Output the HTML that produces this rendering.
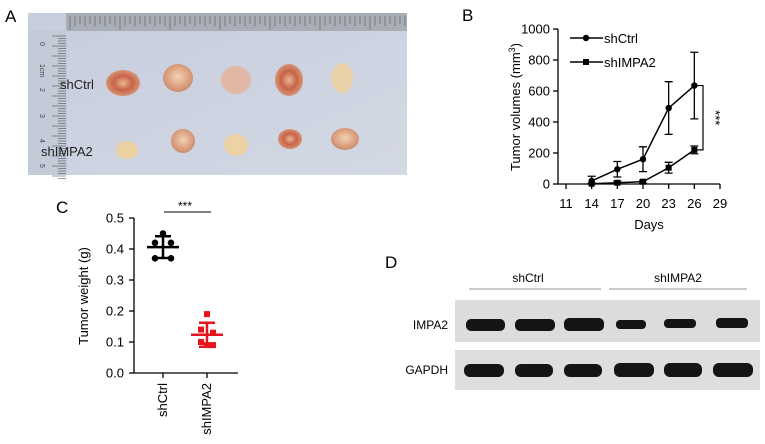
<!DOCTYPE html>
<html><head><meta charset="utf-8"><style>
body{margin:0;background:#fff;}
svg{display:block;font-family:"Liberation Sans",Arial,sans-serif;}
</style></head><body>
<svg id="fig" width="765" height="444" viewBox="0 0 765 444">
<defs>
<radialGradient id="tum" cx="50%" cy="45%" r="55%"><stop offset="0" stop-color="#f1d2b4"/><stop offset="0.6" stop-color="#dfa583"/><stop offset="1" stop-color="#c98c70"/></radialGradient>
<radialGradient id="tumr" cx="50%" cy="50%" r="55%"><stop offset="0" stop-color="#e8b890"/><stop offset="0.5" stop-color="#c9624a"/><stop offset="1" stop-color="#d8a07e"/></radialGradient>
<linearGradient id="photo" x1="0" y1="0" x2="1" y2="1"><stop offset="0" stop-color="#c6cddd"/><stop offset="1" stop-color="#d3d8e4"/></linearGradient>
</defs>
<g>
<text x="5" y="22" font-size="17">A</text>
<rect x="28" y="13" width="379" height="162" fill="url(#photo)"/>
<rect x="66" y="13" width="341" height="18" fill="#a9aeb6"/>
<rect x="28" y="30" width="39" height="145" fill="#c3cad8"/>
<g id="rulerticks" stroke="#555" stroke-width="0.6"></g>
<g font-size="7" fill="#444">
<text x="40" y="42" transform="rotate(90 40 42)">0</text><text x="40" y="64" transform="rotate(90 40 64)">1cm</text>
<text x="40" y="88" transform="rotate(90 40 88)">2</text><text x="40" y="114" transform="rotate(90 40 114)">3</text>
<text x="40" y="139" transform="rotate(90 40 139)">4</text><text x="40" y="164" transform="rotate(90 40 164)">5</text></g>
<g>
<ellipse cx="123" cy="83" rx="17" ry="13" fill="url(#tumr)"/><ellipse cx="178" cy="78" rx="15" ry="14" fill="url(#tum)"/>
<ellipse cx="236" cy="80" rx="15" ry="14" fill="#e2b7a6"/><ellipse cx="289" cy="80" rx="14" ry="16" fill="url(#tumr)"/>
<ellipse cx="342" cy="78" rx="11" ry="15" fill="#ead2a8"/>
<ellipse cx="127" cy="150" rx="11" ry="9" fill="#ecd0a2"/><ellipse cx="183" cy="141" rx="12" ry="12" fill="url(#tum)"/>
<ellipse cx="236" cy="145" rx="12" ry="11" fill="#ecd2a4"/><ellipse cx="290" cy="139" rx="12" ry="10" fill="url(#tumr)"/>
<ellipse cx="345" cy="139" rx="14" ry="11" fill="url(#tum)"/></g>
<text x="60" y="89" font-size="13" fill="#222">shCtrl</text>
<text x="41" y="156" font-size="13" fill="#222">shIMPA2</text>
</g>
<g id="panelB">
<text x="462" y="21" font-size="17">B</text>
</g>
<g id="panelC">
<text x="56" y="213" font-size="17">C</text>
</g>
<g>
<text x="385" y="268" font-size="17">D</text>
<text x="528" y="282" font-size="12" text-anchor="middle">shCtrl</text>
<text x="678" y="282" font-size="12" text-anchor="middle">shIMPA2</text>
<line x1="469" y1="289" x2="601" y2="289" stroke="#999" stroke-width="1"/>
<line x1="609" y1="289" x2="747" y2="289" stroke="#999" stroke-width="1"/>
<rect x="455" y="300" width="305" height="42" fill="#dcdcdc"/>
<rect x="455" y="350" width="305" height="40" fill="#dedede"/>
<text x="448" y="329" font-size="12" text-anchor="end">IMPA2</text>
<text x="448" y="374" font-size="12" text-anchor="end">GAPDH</text>
<g fill="#141414">
<rect x="466" y="319" width="39" height="12" rx="5"/><rect x="515" y="319" width="40" height="12" rx="5"/><rect x="564" y="318" width="40" height="13" rx="5"/>
<rect x="616" y="320" width="30" height="9" rx="4"/><rect x="664" y="319" width="32" height="9" rx="4"/><rect x="716" y="318" width="32" height="10" rx="4"/></g>
<g fill="#141414">
<rect x="464" y="364" width="40" height="13" rx="6"/><rect x="515" y="364" width="38" height="13" rx="6"/><rect x="564" y="364" width="38" height="13" rx="6"/>
<rect x="614" y="363" width="40" height="14" rx="6"/><rect x="664" y="363" width="38" height="14" rx="6"/><rect x="713" y="363" width="40" height="14" rx="6"/></g>
</g>
</svg>
<script>
// Panel B data
const days=[14,17,20,23,26];
const ctrlVol=[20,95,160,490,635];
const ctrlErr=[30,50,80,170,215];
const impaVol=[2,8,15,105,220];
const impaErr=[5,10,10,35,25];
const bYTicks=[0,200,400,600,800,1000];
const bXTicks=[11,14,17,20,23,26,29];
// Panel C data
const cCats=['shCtrl','shIMPA2'];
const ctrlWeights=[0.45,0.42,0.42,0.37,0.37];
const impaWeights=[0.19,0.14,0.13,0.10,0.09,0.09];
const cYTicks=[0.0,0.1,0.2,0.3,0.4,0.5];

const NS='http://www.w3.org/2000/svg';
function mk(p,t,a){const e=document.createElementNS(NS,t);for(const k in a)e.setAttribute(k,a[k]);p.appendChild(e);return e;}
// ruler ticks
const rt=document.getElementById('rulerticks');
for(let i=0;i<68;i++){const x=70+i*5;const l=mk(rt,'line',{x1:x,y1:16,x2:x,y2:i%10==0?30:(i%2?26:24)});}
for(let i=0;i<58;i++){const y=36+i*2.5;mk(rt,'line',{x1:i%4==0?52:58,y1:y,x2:66,y2:y});}

const B=document.getElementById('panelB');
const bx=d=>566+(d-11)*(154/18), by=v=>184-v*0.155;
const ax=mk(B,'path',{d:`M558 ${by(1000)} V184 H720`,fill:'none',stroke:'#000','stroke-width':1.3});


bYTicks.forEach(v=>{mk(B,'line',{x1:553,y1:by(v),x2:558,y2:by(v),stroke:'#000','stroke-width':1.3});
 const t=mk(B,'text',{x:550,y:by(v)+4.5,'font-size':13,'text-anchor':'end'});t.textContent=v;
 
 });
bXTicks.forEach(d=>{mk(B,'line',{x1:bx(d),y1:184,x2:bx(d),y2:189,stroke:'#000','stroke-width':1.3});
 const t=mk(B,'text',{x:bx(d),y:208,'font-size':13,'text-anchor':'middle'});t.textContent=d;
 
 });
let t=mk(B,'text',{x:649,y:229,'font-size':13,'text-anchor':'middle'});t.textContent='Days';


t=mk(B,'text',{x:0,y:0,'font-size':13,'text-anchor':'middle',transform:'translate(520 107) rotate(-90)'});
t.innerHTML='Tumor volumes (mm<tspan font-size="9" dy="-5">3</tspan><tspan dy="5">)</tspan>';


function series(vals,errs,sq,name){
 const g=mk(B,'g',{});
 
 
 mk(g,'polyline',{points:days.map((d,i)=>bx(d)+','+by(vals[i])).join(' '),fill:'none',stroke:'#000','stroke-width':1.5});
 days.forEach((d,i)=>{const x=bx(d),y1=by(vals[i]+errs[i]),y2=by(Math.max(0,vals[i]-errs[i]));
  mk(g,'path',{d:`M${x} ${y1}V${y2}M${x-4} ${y1}H${x+4}M${x-4} ${y2}H${x+4}`,stroke:'#000','stroke-width':1.3});
  if(sq)mk(g,'rect',{x:x-3,y:by(vals[i])-3,width:6,height:6}); else mk(g,'circle',{cx:x,cy:by(vals[i]),r:3.2});});
}
series(ctrlVol,ctrlErr,false,'shctrl-series');
series(impaVol,impaErr,true,'shimpa2-series');
// legend
mk(B,'line',{x1:570,y1:38,x2:603,y2:38,stroke:'#000','stroke-width':1.5});mk(B,'circle',{cx:586,cy:38,r:3.2});
mk(B,'line',{x1:570,y1:62,x2:603,y2:62,stroke:'#000','stroke-width':1.5});mk(B,'rect',{x:583,y:59,width:6,height:6});
t=mk(B,'text',{x:604,y:43,'font-size':13});t.textContent='shCtrl';


t=mk(B,'text',{x:604,y:67,'font-size':13});t.textContent='shIMPA2';


mk(B,'path',{d:`M697 ${by(ctrlVol[4])}H703V${by(impaVol[4])}H697`,fill:'none',stroke:'#000','stroke-width':1.2});
t=mk(B,'text',{x:0,y:0,'font-size':13,'text-anchor':'middle',transform:`translate(711 ${(by(ctrlVol[4])+by(impaVol[4]))/2}) rotate(90)`});t.textContent='***';



// Panel C
const C=document.getElementById('panelC');
const cy=v=>373-v*310, cx=[163,207];
const cax=mk(C,'path',{d:`M134 ${cy(0.5)}V373H238`,fill:'none',stroke:'#000','stroke-width':1.3});


cYTicks.forEach(v=>{mk(C,'line',{x1:129,y1:cy(v),x2:134,y2:cy(v),stroke:'#000','stroke-width':1.3});
 const tt=mk(C,'text',{x:124,y:cy(v)+4.5,'font-size':13,'text-anchor':'end'});tt.textContent=v.toFixed(1);
 
 });
cCats.forEach((c,i)=>{mk(C,'line',{x1:cx[i],y1:373,x2:cx[i],y2:378,stroke:'#000','stroke-width':1.3});
 const tt=mk(C,'text',{x:0,y:0,'font-size':13,'text-anchor':'end',transform:`translate(${cx[i]+4} 383) rotate(-90)`});tt.textContent=c;
 
 });
t=mk(C,'text',{x:0,y:0,'font-size':13,'text-anchor':'middle',transform:'translate(88 296) rotate(-90)'});t.textContent='Tumor weight (g)';


function scatter(vals,i,color,sq,name){
 const g=mk(C,'g',{fill:color,stroke:color});
 
 
 const m=vals.reduce((a,b)=>a+b)/vals.length;
 const sd=Math.sqrt(vals.reduce((a,b)=>a+(b-m)**2,0)/(vals.length-1));
 const x=cx[i];
 mk(g,'path',{d:`M${x-16} ${cy(m)}H${x+16}M${x} ${cy(m+sd)}V${cy(m-sd)}M${x-8} ${cy(m+sd)}H${x+8}M${x-8} ${cy(m-sd)}H${x+8}`,'stroke-width':2.5,fill:'none'});
 const offs=sq?[0,-6,6,-6,0,6]:[0,-8,8,-8,8];
 vals.forEach((v,k)=>{const px=x+offs[k];
  if(sq)mk(g,'rect',{x:px-3,y:cy(v)-3,width:6,height:6,stroke:'none'});else mk(g,'circle',{cx:px,cy:cy(v),r:3.3,stroke:'none'});});
}
scatter(ctrlWeights,0,'#000',false,'shctrl-weights');
scatter(impaWeights,1,'#e8141b',true,'shimpa2-weights');
mk(C,'line',{x1:164,y1:212,x2:211,y2:212,stroke:'#000','stroke-width':1});
t=mk(C,'text',{x:185,y:210,'font-size':12,'text-anchor':'middle'});t.textContent='***';


</script>
</body></html>
